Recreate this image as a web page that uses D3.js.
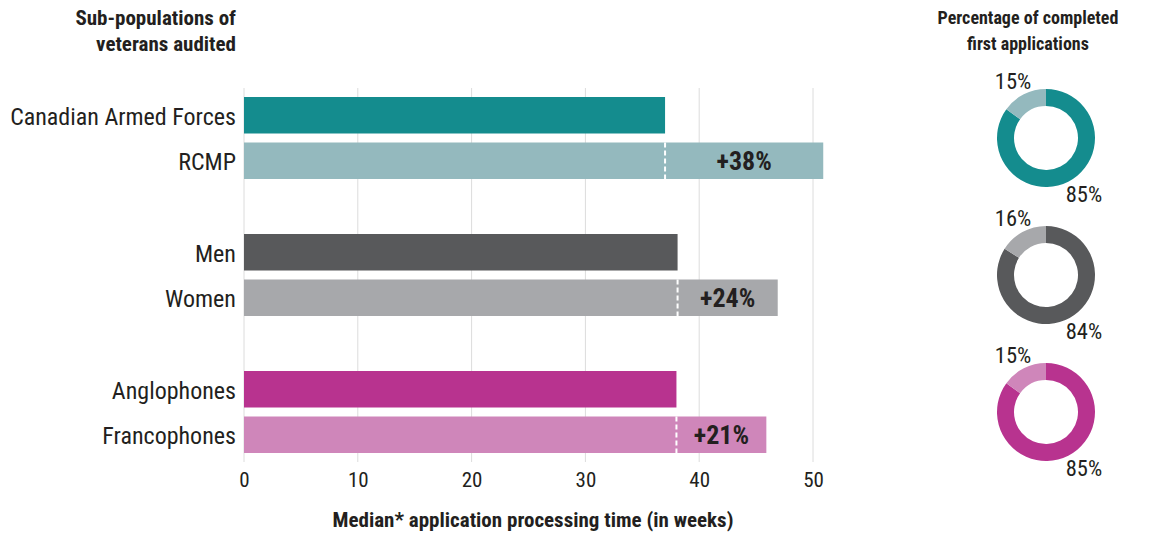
<!DOCTYPE html>
<html>
<head>
<meta charset="utf-8">
<script src="https://cdn.jsdelivr.net/npm/d3@7"></script>
<style>
  body { margin: 0; background: #fff; }
  svg text { font-family: "Roboto Condensed", "Liberation Sans Narrow", "DejaVu Sans Condensed", sans-serif; fill: #231f20; }
  .bold { font-weight: bold; }
</style>
</head>
<body>
<svg id="chart" width="1156" height="534"></svg>
<script>
// data
const categories = ["Canadian Armed Forces", "RCMP", "Men", "Women", "Anglophones", "Francophones"];
const weeks = [37, 50.9, 38.1, 46.9, 38.0, 45.9];
const barColors = ["#148c8e", "#94b9be", "#58595b", "#a7a8ab", "#b8338f", "#cf86ba"];
const diffLabels = ["+38%", "+24%", "+21%"];
const xTicks = [0, 10, 20, 30, 40, 50];
const donutCompleted = [85, 84, 85];

const svg = d3.select("#chart");

const x = d3.scaleLinear().domain([0, 50]).range([244, 813]);
const barH = 36.5;
// row tops: pairs of bars, groups spaced apart
const rowTop = i => 97 + Math.floor(i / 2) * 137 + (i % 2) * 45.5;

// grid
svg.append("g").selectAll("line")
  .data(xTicks)
  .join("line")
  .attr("x1", d => x(d)).attr("x2", d => x(d))
  .attr("y1", 88).attr("y2", 462)
  .attr("stroke", "#dcdcdc").attr("stroke-width", 1);

// axis labels
const ax = d3.axisBottom(x).tickValues(xTicks).tickSize(0).tickPadding(0);
const gx = svg.append("g")
  .attr("transform", "translate(0,467)")
  .call(ax);
gx.select(".domain").remove();
gx.selectAll("text").attr("font-size", 21).attr("dy", "0.95em")
  .style("font-family", "'Roboto Condensed','Liberation Sans Narrow','DejaVu Sans Condensed',sans-serif")
  .attr("fill", "#231f20");

// bars
svg.append("g").selectAll("rect")
  .data(weeks)
  .join("rect")
  .attr("x", x(0))
  .attr("y", (d, i) => rowTop(i))
  .attr("width", d => x(d) - x(0))
  .attr("height", barH)
  .attr("fill", (d, i) => barColors[i]);

// category labels
svg.append("g").selectAll("text")
  .data(categories)
  .join("text")
  .attr("x", 236)
  .attr("y", (d, i) => rowTop(i) + barH / 2)
  .attr("dy", "0.4em")
  .attr("text-anchor", "end")
  .attr("font-size", 24)
  .text(d => d);

// dashed reference lines + difference labels
diffLabels.forEach((lab, g) => {
  const base = weeks[g * 2], other = weeks[g * 2 + 1];
  const y0 = rowTop(g * 2 + 1);
  svg.append("line")
    .attr("x1", x(base)).attr("x2", x(base))
    .attr("y1", y0).attr("y2", y0 + barH)
    .attr("stroke", "#fff").attr("stroke-width", 2)
    .attr("stroke-dasharray", "5,3");
  svg.append("text")
    .attr("class", "bold")
    .attr("x", (x(base) + x(other)) / 2)
    .attr("y", y0 + barH / 2)
    .attr("dy", "0.36em")
    .attr("text-anchor", "middle")
    .attr("font-size", 26)
    .text(lab);
});

// titles
const leftTitle = svg.append("text").attr("class", "bold")
  .attr("text-anchor", "end").attr("font-size", 21);
leftTitle.append("tspan").attr("x", 236).attr("y", 25).text("Sub-populations of");
leftTitle.append("tspan").attr("x", 236).attr("y", 51).text("veterans audited");

const rightTitle = svg.append("text").attr("class", "bold")
  .attr("text-anchor", "middle").attr("font-size", 18);
rightTitle.append("tspan").attr("x", 1028).attr("y", 24).text("Percentage of completed");
rightTitle.append("tspan").attr("x", 1028).attr("y", 50).text("first applications");

svg.append("text").attr("class", "bold")
  .attr("x", 533).attr("y", 527)
  .attr("text-anchor", "middle").attr("font-size", 21)
  .text("Median* application processing time (in weeks)");

// donuts
const pie = d3.pie().sort(null);
const arc = d3.arc().innerRadius(32).outerRadius(49);
const donutCy = [138, 275, 412];
donutCompleted.forEach((v, g) => {
  const cx = 1046, cy = donutCy[g];
  const gd = svg.append("g").attr("transform", `translate(${cx},${cy})`);
  gd.selectAll("path")
    .data(pie([v, 100 - v]))
    .join("path")
    .attr("d", arc)
    .attr("fill", (d, i) => barColors[g * 2 + i]);
  gd.append("text")
    .attr("x", -33).attr("y", -49)
    .attr("text-anchor", "middle")
    .attr("font-size", 22.5)
    .text((100 - v) + "%");
  gd.append("text")
    .attr("x", 38).attr("y", 64)
    .attr("text-anchor", "middle")
    .attr("font-size", 22.5)
    .text(v + "%");
});
</script>
</body>
</html>
